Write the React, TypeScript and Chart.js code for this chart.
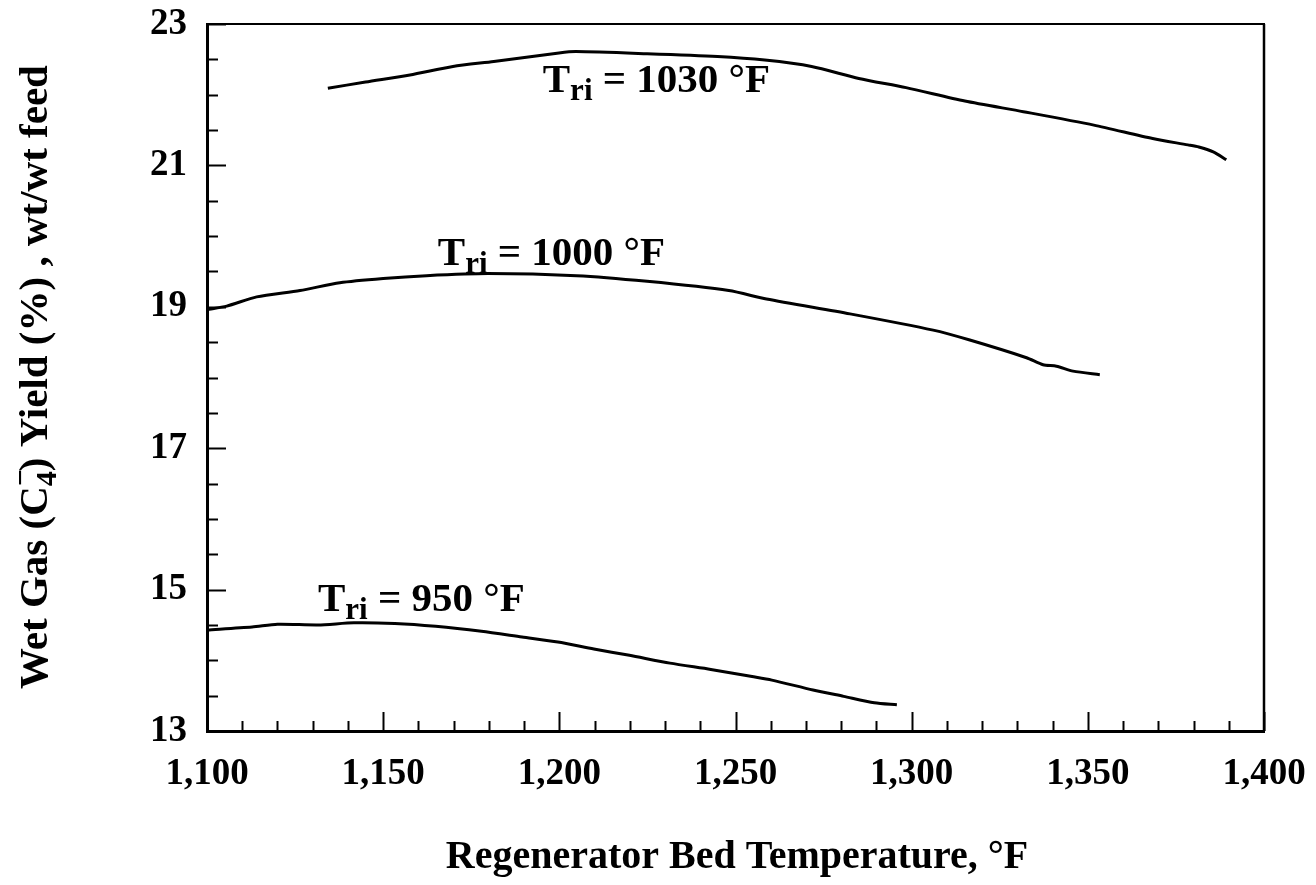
import React, { useEffect, useRef } from 'react';
import { Chart, registerables } from 'chart.js';

Chart.register(...registerables);

// ---- Data ----
const X_1030 = [1134.3, 1145.0, 1157.6, 1169.8, 1181.4, 1199.9, 1204.7, 1224.9, 1244.9, 1258.3, 1271.6, 1285.0, 1298.4, 1315.1, 1331.7, 1351.7, 1368.4, 1378.4, 1381.5, 1385.6, 1389.3];
const Y_1030 = [22.09, 22.18, 22.28, 22.40, 22.47, 22.59, 22.61, 22.58, 22.54, 22.49, 22.40, 22.23, 22.10, 21.91, 21.76, 21.57, 21.38, 21.29, 21.26, 21.19, 21.08];

const X_1000 = [1100.0, 1105.6, 1114.1, 1126.4, 1137.7, 1150.0, 1162.3, 1179.7, 1204.9, 1224.9, 1248.1, 1258.8, 1282.5, 1306.1, 1316.5, 1332.6, 1337.3, 1341.1, 1345.8, 1353.4];
const Y_1000 = [18.96, 19.01, 19.14, 19.23, 19.34, 19.40, 19.44, 19.47, 19.44, 19.36, 19.23, 19.11, 18.90, 18.67, 18.53, 18.28, 18.18, 18.16, 18.09, 18.04];

const X_950 = [1100.0, 1112.8, 1120.0, 1131.5, 1141.7, 1153.3, 1164.9, 1177.9, 1189.4, 1199.6, 1209.8, 1219.9, 1231.4, 1243.0, 1254.7, 1260.3, 1272.0, 1280.7, 1289.4, 1295.8];
const Y_950 = [14.43, 14.47, 14.51, 14.50, 14.53, 14.52, 14.48, 14.41, 14.33, 14.26, 14.16, 14.07, 13.96, 13.87, 13.77, 13.72, 13.58, 13.49, 13.40, 13.37];

const SERIES_TEMPS = ['1030', '1000', '950'];
const LABEL_X = [1195.3, 1165.5, 1131.5];
const LABEL_Y = [22.04, 19.59, 14.70];

const X_MAJOR_TICKS = [1100, 1150, 1200, 1250, 1300, 1350, 1400];
const Y_MAJOR_TICKS = [13, 15, 17, 19, 21, 23];

const X_TITLE = 'Regenerator Bed Temperature, °F';

const SERIF = "'Liberation Serif', 'Times New Roman', serif";

type Part = { t: string; size: number; dy: number; adv?: boolean };

function partsWidth(ctx: CanvasRenderingContext2D, parts: Part[]) {
  let w = 0;
  for (const p of parts) {
    ctx.font = `bold ${p.size}px ${SERIF}`;
    if (p.adv !== false) w += ctx.measureText(p.t).width;
  }
  return w;
}

function drawParts(ctx: CanvasRenderingContext2D, parts: Part[], x: number, y: number) {
  let cx = x;
  for (const p of parts) {
    ctx.font = `bold ${p.size}px ${SERIF}`;
    ctx.fillText(p.t, cx, y + p.dy);
    if (p.adv !== false) cx += ctx.measureText(p.t).width;
  }
}

const decorPlugin = {
  id: 'decor',
  afterDraw(chart: any) {
    const { ctx, chartArea: ca, scales } = chart;
    const xs = scales.x;
    const ys = scales.y;
    ctx.save();
    ctx.strokeStyle = '#000';
    ctx.fillStyle = '#000';
    ctx.lineCap = 'butt';

    // top and right frame
    ctx.lineWidth = 2;
    ctx.beginPath();
    ctx.moveTo(ca.left, ca.top);
    ctx.lineTo(ca.right + 1, ca.top);
    ctx.stroke();
    ctx.lineWidth = 2.5;
    ctx.beginPath();
    ctx.moveTo(ca.right, ca.top);
    ctx.lineTo(ca.right, ca.bottom);
    ctx.stroke();

    // inward tick marks
    ctx.lineWidth = 2;
    for (const t of xs.ticks) {
      const px = Math.round(xs.getPixelForValue(t.value)) + 0.5;
      const len = X_MAJOR_TICKS.includes(Math.round(t.value)) ? 19 : 10;
      ctx.beginPath();
      ctx.moveTo(px, ca.bottom);
      ctx.lineTo(px, ca.bottom - len);
      ctx.stroke();
    }
    for (const t of ys.ticks) {
      const py = Math.round(ys.getPixelForValue(t.value)) + 0.5;
      const len = Y_MAJOR_TICKS.includes(t.value) ? 19 : 11;
      ctx.beginPath();
      ctx.moveTo(ca.left, py);
      ctx.lineTo(ca.left + len, py);
      ctx.stroke();
    }

    // curve labels  T_ri = ... °F
    ctx.textAlign = 'left';
    ctx.textBaseline = 'alphabetic';
    SERIES_TEMPS.forEach((temp, i) => {
      const px = xs.getPixelForValue(LABEL_X[i]);
      const py = ys.getPixelForValue(LABEL_Y[i]);
      drawParts(ctx, [
        { t: 'T', size: 41, dy: 0 },
        { t: 'ri', size: 31, dy: 8 },
        { t: ' = ' + temp + ' °F', size: 41, dy: 0 },
      ], px, py);
    });

    // x axis title
    ctx.textAlign = 'center';
    ctx.font = `bold 40px ${SERIF}`;
    ctx.fillText(X_TITLE, 737, 868);

    // y axis title (rotated), with C4 subscript and minus superscript
    ctx.textAlign = 'left';
    const yParts: Part[] = [
      { t: 'Wet Gas (C', size: 41, dy: 0 },
      { t: '\u2212', size: 30, dy: -17, adv: false },
      { t: '4', size: 30, dy: 9 },
      { t: ') Yield (%) , wt/wt feed', size: 41, dy: 0 },
    ];
    ctx.save();
    ctx.translate(47, 377);
    ctx.rotate(-Math.PI / 2);
    const w = partsWidth(ctx, yParts);
    drawParts(ctx, yParts, -w / 2, 0);
    ctx.restore();

    ctx.restore();
  },
};

export default function App() {
  const ref = useRef<HTMLCanvasElement | null>(null);

  useEffect(() => {
    document.body.style.margin = '0';
    const canvas = ref.current;
    if (!canvas) return;
    const mk = (xs: number[], ys: number[]) => xs.map((x, i) => ({ x, y: ys[i] }));
    const lineStyle = {
      showLine: true,
      borderColor: '#000',
      borderWidth: 3,
      pointRadius: 0,
      pointHoverRadius: 0,
      tension: 0.25,
      fill: false,
    };
    const chart = new Chart(canvas, {
      type: 'scatter',
      data: {
        datasets: [
          { label: 'Tri = 1030 °F', data: mk(X_1030, Y_1030), ...lineStyle },
          { label: 'Tri = 1000 °F', data: mk(X_1000, Y_1000), ...lineStyle },
          { label: 'Tri = 950 °F', data: mk(X_950, Y_950), ...lineStyle },
        ],
      },
      options: {
        responsive: false,
        maintainAspectRatio: false,
        animation: false,
        devicePixelRatio: 1,
        layout: { autoPadding: false, padding: { top: 24, right: 52, left: 0, bottom: 0 } },
        plugins: { legend: { display: false }, tooltip: { enabled: false } },
        scales: {
          x: {
            type: 'linear',
            min: 1100,
            max: 1400,
            afterFit: (s: any) => {
              s.height = 154;
              s.paddingLeft = 0; s.paddingRight = 0; s.paddingTop = 0; s.paddingBottom = 0;
            },
            grid: { display: false, drawTicks: false },
            border: { display: true, color: '#000', width: 3 },
            ticks: {
              stepSize: 10,
              autoSkip: false,
              maxRotation: 0,
              padding: 21,
              color: '#000',
              font: { family: SERIF, size: 37, weight: 'bold' },
              callback: (v: any) => (X_MAJOR_TICKS.includes(Math.round(Number(v))) ? Number(v).toLocaleString('en-US') : ''),
            },
          },
          y: {
            type: 'linear',
            min: 13,
            max: 23,
            afterFit: (s: any) => {
              s.width = 207;
              s.paddingLeft = 0; s.paddingRight = 0; s.paddingTop = 0; s.paddingBottom = 0;
            },
            grid: { display: false, drawTicks: false },
            border: { display: true, color: '#000', width: 3 },
            ticks: {
              stepSize: 0.5,
              autoSkip: false,
              padding: 20,
              color: '#000',
              font: { family: SERIF, size: 37, weight: 'bold' },
              callback: (v: any) => (Y_MAJOR_TICKS.includes(Number(v)) ? String(v) : ''),
            },
          },
        },
      },
      plugins: [decorPlugin],
    } as any);
    return () => chart.destroy();
  }, []);

  return <canvas ref={ref} width={1316} height={885} style={{ display: 'block', width: 1316, height: 885 }} />;
}
